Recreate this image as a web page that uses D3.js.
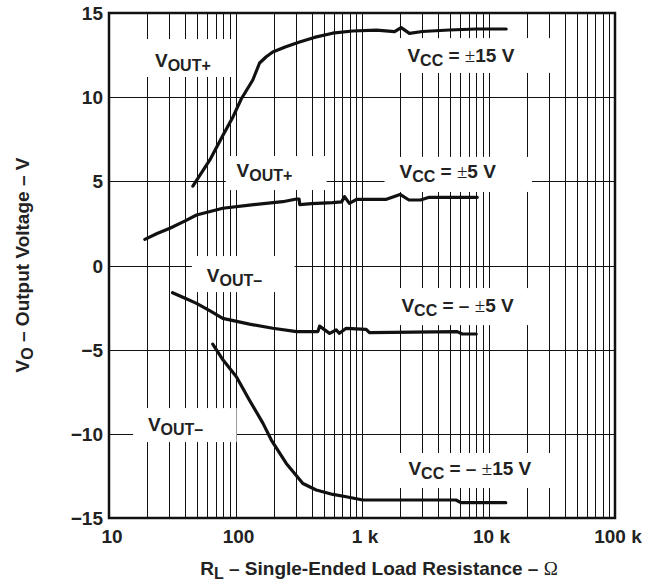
<!DOCTYPE html>
<html>
<head>
<meta charset="utf-8">
<script src="https://cdn.jsdelivr.net/npm/d3@7/dist/d3.min.js"></script>
<style>
  html, body { margin: 0; padding: 0; background: #fff; }
  svg { display: block; }
  text { font-family: "Liberation Sans", Arial, sans-serif; font-weight: bold; fill: #222; }
</style>
</head>
<body>
<svg id="chart" width="662" height="587"></svg>
<script>
// ---------------- data ----------------
const xTickValues = [10, 100, 1000, 10000, 100000];
const xTickLabels = ["10", "100", "1 k", "10 k", "100 k"];
const yTickValues = [15, 10, 5, 0, -5, -10, -15];
const yTickLabels = ["15", "10", "5", "0", "\u22125", "\u221210", "\u221215"];
const yGridValues = [10, 5, 0, -5, -10];

// VOUT+ , VCC = ±15 V
const posHiR = [46, 62.7, 79.8, 95.7, 111, 137, 155, 175, 197, 250, 321, 420, 585, 841, 1300, 1810, 2040, 2370, 3000, 4900, 8000, 13800];
const posHiV = [4.72, 6.27, 7.75, 8.84, 9.89, 11.02, 12.03, 12.4, 12.68, 13.0, 13.28, 13.55, 13.8, 13.93, 13.98, 13.89, 14.13, 13.79, 13.9, 13.99, 14.05, 14.05];

// VOUT+ , VCC = ±5 V
const posLoR = [19.2, 24, 30.3, 40, 49.2, 79.3, 129, 236, 304, 318, 322, 400, 585, 690, 728, 795, 906, 1560, 2000, 2350, 2900, 3400, 8150];
const posLoV = [1.55, 1.9, 2.21, 2.65, 3.0, 3.40, 3.59, 3.79, 3.95, 3.95, 3.62, 3.68, 3.73, 3.78, 4.09, 3.69, 3.93, 3.93, 4.22, 3.89, 3.89, 4.05, 4.05];

// VOUT- , VCC = -±5 V
const negLoR = [31.8, 40, 49.2, 63, 79.3, 129, 197, 304, 448, 462, 554, 625, 663, 750, 1079, 1145, 5660, 6200, 8000];
const negLoV = [-1.62, -1.95, -2.25, -2.7, -3.14, -3.48, -3.73, -3.93, -3.93, -3.60, -4.03, -3.83, -4.03, -3.73, -3.79, -3.99, -3.93, -4.07, -4.07];

// VOUT- , VCC = -±15 V
const negHiR = [66.1, 79.8, 101.6, 129, 165, 192, 252, 341, 435, 589, 750, 1015, 2000, 5530, 6050, 13700];
const negHiV = [-4.67, -5.62, -6.61, -8.0, -9.38, -10.37, -11.76, -12.95, -13.34, -13.6, -13.74, -13.93, -13.93, -13.93, -14.09, -14.09];

const seriesList = [
  { name: "VOUT+ ±15", R: posHiR, V: posHiV },
  { name: "VOUT+ ±5", R: posLoR, V: posLoV },
  { name: "VOUT- ±5", R: negLoR, V: negLoV },
  { name: "VOUT- ±15", R: negHiR, V: negHiV }
];

// annotation text parts: [main, subscript, rest-before-pm, pm, rest-after]
const labelMain = ["V", "V", "V", "V", "V", "V", "V", "V"];
const labelSub = ["OUT+", "OUT+", "CC", "CC", "OUT\u2013", "CC", "OUT\u2013", "CC"];
const labelPre = ["", "", " = ", " = ", "", " = \u2013 ", "", " = \u2013 "];
const labelPm = ["", "", "\u00b1", "\u00b1", "", "\u00b1", "", "\u00b1"];
const labelPost = ["", "", "15 V", "5 V", "", "5 V", "", "15 V"];
// anchors in data units (left edge R, baseline V)
const labelR = [23.1, 102, 2285, 1977, 59.3, 2050, 20.3, 2328];
const labelV = [11.79, 5.26, 12.09, 5.2, -0.98, -2.76, -9.83, -12.45];
// white masks behind annotations in data units
const maskR0 = [17.5, 83.8, 1803, 1507, 45.2, 1507, 15.5, 1803];
const maskR1 = [95, 525, 34200, 22100, 293, 22100, 102, 34200];
const maskV0 = [13.45, 6.5, 13.51, 6.45, 0.56, -1.34, -8.47, -11.14];
const maskV1 = [11.2, 4.48, 11.44, 4.37, -1.58, -3.54, -10.49, -13.22];

// ---------------- layout ----------------
const plot = { left: 109, right: 615, top: 13, bottom: 518 };
const svg = d3.select("#chart");

const x = d3.scaleLog().domain([10, 100000]).range([plot.left, plot.right]);
const y = d3.scaleLinear().domain([-15, 15]).range([plot.bottom, plot.top]);

const crisp = v => Math.round(v) + 0.5;

// vertical grid
const gridX = x.ticks().filter(d => d > 10 && d < 100000);
svg.append("g").selectAll("line").data(gridX).join("line")
  .attr("x1", d => crisp(x(d))).attr("x2", d => crisp(x(d)))
  .attr("y1", plot.top).attr("y2", plot.bottom)
  .attr("stroke", "#111").attr("stroke-width", 1);

// horizontal grid
svg.append("g").selectAll("line").data(yGridValues).join("line")
  .attr("x1", plot.left).attr("x2", plot.right)
  .attr("y1", d => crisp(y(d))).attr("y2", d => crisp(y(d)))
  .attr("stroke", "#111").attr("stroke-width", 1);

// white masks
svg.append("g").selectAll("rect").data(d3.range(maskR0.length)).join("rect")
  .attr("x", i => x(maskR0[i]))
  .attr("y", i => y(maskV0[i]))
  .attr("width", i => x(maskR1[i]) - x(maskR0[i]))
  .attr("height", i => y(maskV1[i]) - y(maskV0[i]))
  .attr("fill", "#fff");

// border
svg.append("rect")
  .attr("x", plot.left).attr("y", plot.top)
  .attr("width", plot.right - plot.left).attr("height", plot.bottom - plot.top)
  .attr("fill", "none").attr("stroke", "#111").attr("stroke-width", 2.5);

// curves
const line = d3.line().x(d => x(d[0])).y(d => y(d[1]));
svg.append("g").selectAll("path").data(seriesList).join("path")
  .attr("d", s => line(s.R.map((r, i) => [r, s.V[i]])))
  .attr("fill", "none").attr("stroke", "#111").attr("stroke-width", 3.2)
  .attr("stroke-linejoin", "round").attr("stroke-linecap", "round");

// x tick labels
svg.append("g").selectAll("text").data(xTickValues).join("text")
  .attr("x", d => x(d) + 3).attr("y", 543)
  .attr("text-anchor", "middle").attr("font-size", 19)
  .text((d, i) => xTickLabels[i]);

// y tick labels
svg.append("g").selectAll("text").data(yTickValues).join("text")
  .attr("x", plot.left - 6).attr("y", d => y(d) + 7)
  .attr("text-anchor", "end").attr("font-size", 19)
  .text((d, i) => yTickLabels[i]);

// annotations
const ann = svg.append("g").selectAll("text").data(d3.range(labelMain.length)).join("text")
  .attr("x", i => x(labelR[i])).attr("y", i => y(labelV[i]))
  .attr("font-size", 19);
ann.each(function(i) {
  const t = d3.select(this);
  t.append("tspan").text(labelMain[i]);
  t.append("tspan").attr("font-size", 16).attr("dy", 4).text(labelSub[i]);
  if (labelPre[i] || labelPm[i] || labelPost[i]) {
    t.append("tspan").attr("dy", -4).text(labelPre[i]);
    t.append("tspan").attr("font-family", "Liberation Serif, serif").attr("font-weight", "normal").text(labelPm[i]);
    t.append("tspan").text(labelPost[i]);
  }
});

// x axis title
const xt = svg.append("text").attr("x", 379).attr("y", 575).attr("text-anchor", "middle").attr("font-size", 19);
xt.append("tspan").text("R");
xt.append("tspan").attr("font-size", 16).attr("dy", 4).text("L");
xt.append("tspan").attr("dy", -4).text(" \u2013 Single-Ended Load Resistance \u2013 ");
xt.append("tspan").attr("font-family", "Liberation Serif, serif").attr("font-weight", "normal").text("\u03a9");

// y axis title
const yt = svg.append("text").attr("transform", "translate(29,265) rotate(-90)")
  .attr("text-anchor", "middle").attr("font-size", 19);
yt.append("tspan").text("V");
yt.append("tspan").attr("font-size", 16).attr("dy", 4).text("O");
yt.append("tspan").attr("dy", -4).text(" \u2013 Output Voltage \u2013 V");
</script>
</body>
</html>
